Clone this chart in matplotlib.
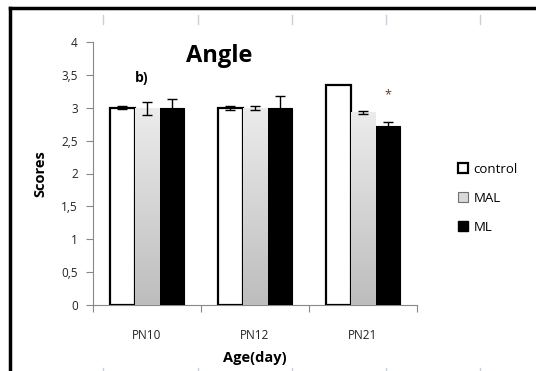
import matplotlib
matplotlib.use("Agg")
import matplotlib.pyplot as plt
import numpy as np
from matplotlib.lines import Line2D
from matplotlib.patches import Patch
from matplotlib.colors import LinearSegmentedColormap

categories = ["PN10", "PN12", "PN21"]
series = ["control", "MAL", "ML"]
control = [3.0, 3.0, 3.35]
control_err = [0.02, 0.03, 0.0]
mal = [2.99, 3.0, 2.93]
mal_err = [0.10, 0.03, 0.02]
ml = [3.0, 3.0, 2.72]
ml_err = [0.13, 0.18, 0.07]
yticks = [0, 0.5, 1, 1.5, 2, 2.5, 3, 3.5, 4]
ytick_labels = ["0", "0,5", "1", "1,5", "2", "2,5", "3", "3,5", "4"]

plt.rcParams['font.family'] = ['Open Sans', 'DejaVu Sans']

W, H = 536, 371
fig = plt.figure(figsize=(W / 100, H / 100), dpi=100)
fig.patch.set_facecolor('white')

ax = fig.add_axes([93 / W, (H - 305) / H, (417 - 93) / W, (305 - 42) / H])
x = np.arange(len(categories))
bw = 0.229

b1 = ax.bar(x - bw, control, bw, color='white', edgecolor='black', linewidth=1.6, zorder=3)
b2 = ax.bar(x, mal, bw, color='#d6d6d6', edgecolor='#b0b0b0', linewidth=0.5, zorder=3)
b3 = ax.bar(x + bw, ml, bw, color='black', edgecolor='black', linewidth=0.8, zorder=3)

# gradient fill for MAL bars
grad = np.linspace(0, 1, 256).reshape(-1, 1)
cmap = LinearSegmentedColormap.from_list('g', ['#bdbdbd', '#ececec'])
for r in b2:
    xx, yy = r.get_x(), r.get_y()
    im = ax.imshow(grad, extent=[xx, xx + r.get_width(), yy, yy + r.get_height()],
                   origin='lower', cmap=cmap, aspect='auto', zorder=3.5)
    im.set_clip_path(r)

for xs, vals, errs in [(x - bw, control, control_err), (x, mal, mal_err), (x + bw, ml, ml_err)]:
    for xi, v, e in zip(xs, vals, errs):
        if e > 0:
            ax.errorbar(xi, v, yerr=e, fmt='none', ecolor='black', elinewidth=1.0,
                        capsize=3.5, capthick=1.0, zorder=5)

ax.set_xlim(-0.5, 2.5)
ax.set_ylim(0, 4)
ax.set_yticks(yticks)
ax.set_yticklabels(ytick_labels, fontsize=8.5, color='#222222')
ax.set_xticks([-0.5, 0.5, 1.5, 2.5])
ax.set_xticklabels([])
ax.set_xticks(x, minor=True)
ax.set_xticklabels(categories, minor=True, fontsize=8.5, color='#222222')
ax.tick_params(axis='x', which='minor', length=0, pad=17)
ax.tick_params(axis='x', which='major', length=5, color='#888888', direction='out')
ax.tick_params(axis='y', length=5, color='#888888', direction='out', pad=6)
for s in ['top', 'right']:
    ax.spines[s].set_visible(False)
for s in ['left', 'bottom']:
    ax.spines[s].set_color('#888888')
    ax.spines[s].set_linewidth(0.8)

ax.set_xlabel("Age(day)", fontsize=10.5, fontweight='bold', labelpad=7)
ax.set_ylabel("Scores", fontsize=10.5, fontweight='bold', labelpad=10)

ax.text(0.39, 0.945, "Angle", transform=ax.transAxes, fontsize=17, fontweight='bold',
        ha='center', va='center')
ax.text(-0.05, 3.45, "b)", fontsize=10, fontweight='bold', ha='center', va='center')
ax.text(2 + bw, 3.2, "*", fontsize=9, ha='center', va='center', color='#5a3a2a')

handles = [Patch(facecolor='white', edgecolor='black', linewidth=1.6),
           Patch(facecolor='#d9d9d9', edgecolor='#707070', linewidth=0.8),
           Patch(facecolor='black', edgecolor='black')]
leg = fig.legend(handles, series, loc='upper left', bbox_to_anchor=(446 / W, 1 - 151 / H),
                 frameon=False, fontsize=9.5, handlelength=0.8, handleheight=0.8,
                 labelspacing=1.2, handletextpad=0.4)

# outer frame
fig.add_artist(Line2D([10 / W, 10 / W], [0, 1 - 8 / H], color='black', linewidth=2.5,
                      transform=fig.transFigure))
fig.add_artist(Line2D([10 / W, 1], [1 - 8 / H, 1 - 8 / H], color='black', linewidth=2.5,
                      transform=fig.transFigure))
for px in [103, 198, 292, 386, 480]:
    fig.add_artist(Line2D([px / W, px / W], [1 - 15 / H, 1 - 24 / H], color='#c8d0dc',
                          linewidth=1.0, transform=fig.transFigure))
    fig.add_artist(Line2D([px / W, px / W], [0, 1 - 368 / H], color='#c8d0dc',
                          linewidth=1.0, transform=fig.transFigure))

fig.savefig("out.png", dpi=100)
